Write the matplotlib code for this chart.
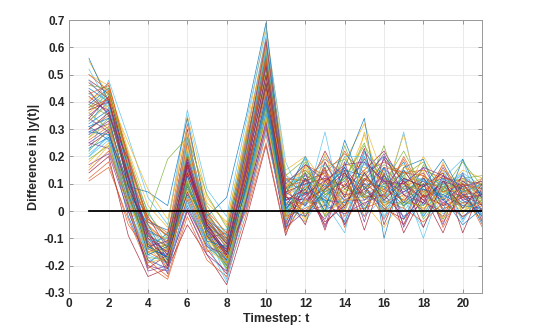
import numpy as np
import matplotlib
matplotlib.use("Agg")
import matplotlib.pyplot as plt

plt.rcParams['font.family'] = ['Liberation Sans', 'DejaVu Sans']

timesteps = list(range(1, 22))

# one row per simulated run, values at t = 1..21
series = [
    [0.45, 0.40, 0.12, -0.10, -0.18, 0.20, -0.05, -0.15, 0.15, 0.50, 0.05, 0.02, 0.10, 0.00, 0.18, 0.05, 0.12, -0.02, 0.08, 0.03, 0.06],
    [0.30, 0.35, 0.05, -0.15, -0.12, 0.10, -0.08, -0.20, 0.10, 0.45, -0.02, 0.08, 0.15, 0.05, 0.10, -0.03, 0.09, 0.12, 0.00, 0.07, -0.04],
    [0.55, 0.42, 0.20, -0.05, -0.15, 0.25, -0.02, -0.10, 0.25, 0.62, 0.10, 0.12, 0.03, 0.20, 0.08, 0.15, 0.02, 0.06, 0.14, 0.05, 0.10],
    [0.25, 0.30, 0.00, -0.20, -0.22, 0.05, -0.12, -0.18, 0.05, 0.38, -0.05, 0.05, -0.03, 0.10, 0.02, 0.12, -0.05, 0.08, 0.04, -0.02, 0.03],
    [0.38, 0.44, 0.15, -0.08, -0.10, 0.15, 0.00, -0.12, 0.20, 0.55, 0.08, 0.18, 0.06, 0.12, 0.25, 0.00, 0.15, 0.05, 0.10, 0.12, 0.08],
    [0.20, 0.28, 0.08, -0.12, -0.20, 0.12, -0.06, -0.22, 0.08, 0.42, 0.02, -0.04, 0.08, 0.02, 0.06, 0.10, 0.04, -0.06, 0.09, 0.02, 0.05],
    [0.42, 0.36, 0.10, -0.02, -0.14, 0.30, -0.10, -0.08, 0.22, 0.58, 0.12, 0.06, 0.22, 0.08, 0.15, 0.22, 0.10, 0.14, 0.02, 0.10, 0.00],
    [0.33, 0.40, 0.18, -0.14, -0.08, 0.08, -0.04, -0.16, 0.12, 0.48, -0.06, 0.10, 0.00, 0.14, 0.04, 0.08, 0.18, 0.02, 0.12, -0.03, 0.07],
    [0.15, 0.22, 0.02, -0.18, -0.24, 0.00, -0.15, -0.12, 0.02, 0.30, 0.00, 0.03, 0.12, -0.05, 0.09, 0.02, 0.06, 0.10, -0.04, 0.06, 0.02],
    [0.50, 0.46, 0.22, 0.02, -0.06, 0.35, 0.05, -0.05, 0.30, 0.68, 0.15, 0.20, 0.10, 0.18, 0.32, 0.12, 0.05, 0.20, 0.08, 0.15, 0.12],
    [0.28, 0.33, 0.06, -0.09, -0.16, 0.18, -0.09, -0.20, 0.14, 0.44, 0.04, 0.00, 0.07, 0.11, 0.00, 0.16, 0.08, 0.03, 0.11, 0.04, -0.01],
    [0.36, 0.30, 0.14, -0.16, -0.12, 0.06, -0.02, -0.14, 0.18, 0.52, 0.07, 0.14, -0.02, 0.06, 0.20, 0.04, 0.13, -0.03, 0.06, 0.09, 0.04],
    [0.22, 0.38, 0.10, -0.06, -0.20, 0.22, -0.07, -0.25, 0.06, 0.40, -0.03, 0.06, 0.18, 0.03, 0.12, 0.07, 0.00, 0.09, 0.15, 0.01, 0.09],
    [0.48, 0.43, 0.16, -0.11, -0.17, 0.14, -0.03, -0.09, 0.24, 0.60, 0.09, -0.02, 0.11, 0.16, 0.06, 0.19, 0.11, 0.04, -0.02, 0.11, 0.05],
    [0.31, 0.26, -0.02, -0.19, -0.14, 0.02, -0.13, -0.19, 0.04, 0.36, 0.01, 0.09, 0.04, -0.04, 0.14, 0.03, 0.07, 0.12, 0.05, -0.05, 0.01],
    [0.40, 0.47, 0.19, -0.03, -0.09, 0.27, -0.01, -0.11, 0.26, 0.56, 0.11, 0.15, 0.08, 0.22, 0.10, 0.05, 0.20, 0.07, 0.13, 0.08, 0.11],
    [0.18, 0.25, 0.04, -0.13, -0.21, 0.09, -0.11, -0.17, 0.09, 0.34, -0.07, 0.04, 0.02, 0.07, 0.03, -0.06, 0.05, 0.01, 0.07, 0.03, -0.03],
    [0.35, 0.41, 0.13, -0.07, -0.11, 0.19, -0.05, -0.13, 0.17, 0.53, 0.06, 0.11, 0.14, 0.01, 0.22, 0.11, 0.03, 0.16, 0.04, 0.13, 0.06],
    [0.27, 0.34, 0.07, -0.17, -0.18, 0.11, -0.08, -0.21, 0.11, 0.46, 0.03, -0.01, 0.06, 0.09, 0.05, 0.09, 0.14, -0.01, 0.10, 0.00, 0.04],
    [0.52, 0.39, 0.17, 0.00, -0.13, 0.28, -0.04, -0.07, 0.28, 0.64, 0.13, 0.09, 0.20, 0.12, 0.17, 0.14, 0.08, 0.11, 0.06, 0.14, 0.09],
    [0.24, 0.29, 0.03, -0.21, -0.16, 0.04, -0.14, -0.23, 0.03, 0.33, -0.04, 0.07, -0.05, 0.04, 0.08, 0.01, -0.03, 0.06, 0.02, 0.05, 0.00],
    [0.39, 0.45, 0.14, -0.04, -0.07, 0.16, -0.06, -0.10, 0.21, 0.57, 0.08, 0.13, 0.09, 0.15, 0.13, 0.20, 0.12, 0.09, 0.12, 0.07, 0.10],
    [0.12, 0.18, -0.05, -0.15, -0.19, 0.07, -0.10, -0.15, 0.00, 0.28, -0.02, 0.01, 0.05, 0.00, 0.01, 0.04, 0.01, -0.04, 0.03, -0.02, 0.02],
    [0.44, 0.37, 0.11, -0.12, -0.15, 0.24, -0.03, -0.17, 0.19, 0.51, 0.05, 0.17, 0.01, 0.10, 0.28, 0.06, 0.16, 0.13, 0.08, 0.10, 0.03],
    [0.29, 0.32, 0.09, -0.08, -0.23, 0.13, -0.07, -0.19, 0.13, 0.43, 0.02, 0.05, 0.13, 0.06, 0.07, 0.13, 0.06, 0.00, 0.13, 0.06, 0.07],
    [0.37, 0.43, 0.21, -0.01, -0.10, 0.21, 0.02, -0.09, 0.23, 0.59, 0.10, 0.08, 0.16, 0.19, 0.11, 0.17, 0.13, 0.18, 0.07, 0.12, 0.13],
    [0.21, 0.27, 0.01, -0.16, -0.19, 0.03, -0.12, -0.20, 0.07, 0.37, -0.05, 0.02, 0.00, 0.05, -0.02, 0.05, 0.02, 0.07, -0.01, 0.04, -0.02],
    [0.47, 0.41, 0.16, -0.09, -0.13, 0.17, -0.04, -0.12, 0.20, 0.54, 0.07, 0.10, 0.12, 0.09, 0.19, 0.10, 0.10, 0.04, 0.11, 0.08, 0.05],
    [0.32, 0.37, 0.11, -0.13, -0.17, 0.10, -0.06, -0.18, 0.10, 0.47, 0.00, 0.12, 0.05, 0.13, 0.09, 0.00, 0.09, 0.08, 0.05, 0.11, 0.06],
    [0.26, 0.31, 0.05, -0.11, -0.21, 0.15, -0.09, -0.16, 0.12, 0.41, 0.03, 0.03, 0.09, 0.02, 0.12, 0.08, 0.04, 0.10, 0.01, 0.03, 0.03],
    [0.41, 0.44, 0.18, -0.06, -0.11, 0.23, -0.02, -0.13, 0.22, 0.61, 0.09, 0.16, 0.07, 0.17, 0.16, 0.13, 0.17, 0.06, 0.15, 0.09, 0.12],
    [0.34, 0.29, 0.08, -0.14, -0.16, 0.07, -0.08, -0.14, 0.15, 0.49, 0.04, 0.06, 0.11, 0.04, 0.04, 0.11, 0.07, 0.11, 0.03, 0.06, 0.02],
    [0.19, 0.24, 0.03, -0.10, -0.14, 0.11, -0.11, -0.21, 0.05, 0.35, -0.01, 0.08, 0.03, 0.08, 0.06, 0.03, 0.03, 0.02, 0.08, 0.01, 0.04],
    [0.43, 0.38, 0.15, -0.07, -0.12, 0.26, -0.03, -0.11, 0.24, 0.58, 0.11, 0.13, 0.17, 0.11, 0.21, 0.15, 0.11, 0.12, 0.10, 0.13, 0.08],
    [0.30, 0.36, 0.12, -0.12, -0.19, 0.14, -0.05, -0.17, 0.14, 0.45, 0.05, 0.04, 0.08, 0.14, 0.05, 0.06, 0.15, 0.05, 0.09, 0.05, 0.06],
    [0.23, 0.27, 0.06, -0.13, -0.17, 0.09, -0.07, -0.15, 0.08, 0.39, 0.01, 0.07, 0.04, 0.03, 0.10, 0.09, 0.02, 0.08, 0.06, 0.02, 0.01],
    [0.50, 0.44, 0.19, -0.04, -0.09, 0.32, 0.00, -0.08, 0.27, 0.63, 0.12, 0.11, 0.14, 0.21, 0.14, 0.18, 0.14, 0.15, 0.12, 0.11, 0.10],
    [0.33, 0.39, 0.10, -0.15, -0.14, 0.12, -0.06, -0.19, 0.11, 0.48, 0.06, 0.09, 0.10, 0.07, 0.13, 0.05, 0.10, 0.07, 0.07, 0.08, 0.05],
    [0.17, 0.21, 0.00, -0.18, -0.21, 0.01, -0.13, -0.16, 0.01, 0.31, -0.06, 0.00, 0.02, -0.01, 0.03, 0.06, -0.02, 0.03, 0.00, 0.00, 0.00],
    [0.39, 0.35, 0.14, -0.09, -0.13, 0.21, -0.04, -0.12, 0.19, 0.52, 0.08, 0.14, 0.06, 0.12, 0.24, 0.12, 0.08, 0.10, 0.09, 0.10, 0.07],
    [0.28, 0.48, 0.27, 0.05, -0.05, 0.37, 0.08, -0.02, 0.33, 0.66, 0.18, 0.02, 0.29, -0.04, 0.20, 0.03, 0.29, -0.02, 0.12, 0.19, -0.03],
    [0.14, 0.20, -0.09, -0.24, -0.21, -0.05, -0.16, -0.27, -0.03, 0.24, -0.09, 0.12, -0.07, 0.15, -0.07, 0.14, -0.08, 0.06, -0.08, 0.10, 0.02],
    [0.56, 0.40, 0.09, 0.07, 0.02, 0.34, -0.02, 0.05, 0.35, 0.69, 0.06, 0.20, 0.02, 0.16, 0.34, -0.10, 0.16, 0.19, 0.00, 0.19, 0.04],
    [0.11, 0.16, -0.03, -0.20, -0.25, -0.02, -0.18, -0.24, -0.01, 0.25, -0.08, 0.05, 0.15, -0.06, 0.12, 0.02, -0.05, 0.13, -0.06, 0.08, -0.06],
    [0.36, 0.42, 0.25, 0.08, -0.03, 0.29, 0.03, -0.04, 0.29, 0.60, 0.14, -0.03, 0.21, 0.00, 0.29, 0.06, 0.28, -0.01, 0.18, -0.01, 0.11],
    [0.25, 0.23, 0.02, -0.22, -0.20, 0.00, -0.16, -0.22, 0.04, 0.32, -0.07, 0.14, -0.06, 0.18, -0.04, 0.20, -0.06, 0.10, -0.05, 0.14, -0.04],
    [0.46, 0.45, 0.17, -0.02, 0.19, 0.27, 0.06, -0.06, 0.25, 0.57, 0.13, 0.19, -0.02, 0.24, 0.05, 0.24, 0.01, 0.17, 0.08, 0.18, 0.09],
    [0.20, 0.26, 0.04, -0.17, -0.22, 0.04, -0.12, -0.26, 0.02, 0.29, -0.04, 0.20, 0.03, -0.08, 0.22, -0.02, 0.10, -0.10, 0.11, -0.04, 0.08],
    [0.37, 0.40, 0.13, -0.10, -0.15, 0.18, -0.05, -0.15, 0.16, 0.50, 0.06, -0.05, 0.18, 0.05, 0.23, -0.05, 0.12, 0.09, 0.14, -0.08, 0.09],
    [0.31, 0.34, 0.07, -0.05, -0.18, 0.13, -0.09, -0.18, 0.09, 0.42, 0.02, 0.12, 0.00, 0.26, 0.08, 0.16, -0.03, 0.12, 0.04, 0.09, -0.05],
    [0.43, 0.46, 0.20, -0.03, -0.08, 0.20, -0.01, -0.10, 0.18, 0.55, -0.05, 0.17, 0.13, -0.02, 0.12, 0.07, 0.19, 0.05, 0.17, 0.05, 0.12],
    [0.27, 0.32, 0.08, -0.14, -0.15, 0.08, -0.10, -0.17, 0.13, 0.44, 0.10, -0.04, 0.16, 0.00, 0.15, 0.02, 0.09, 0.15, -0.03, 0.12, 0.04],
    [0.40, 0.37, 0.12, -0.08, -0.16, 0.16, -0.07, -0.14, 0.17, 0.53, 0.07, 0.02, 0.16, -0.05, 0.11, 0.21, 0.06, 0.03, 0.16, 0.04, 0.06],
    [0.22, 0.30, 0.05, -0.12, -0.19, 0.10, -0.08, -0.20, 0.07, 0.38, -0.02, 0.15, 0.07, 0.12, 0.01, 0.10, 0.22, 0.08, -0.03, 0.08, 0.03],
    [0.48, 0.39, 0.15, -0.11, -0.10, 0.22, -0.02, -0.09, 0.21, 0.59, 0.12, 0.03, 0.04, 0.20, 0.20, -0.03, 0.15, 0.11, 0.09, 0.14, -0.02],
    [0.34, 0.42, 0.09, -0.07, -0.20, 0.17, -0.06, -0.16, 0.12, 0.47, 0.04, 0.08, -0.04, 0.02, 0.14, 0.04, 0.11, -0.06, 0.11, 0.01, 0.10],
    [0.29, 0.28, 0.10, -0.16, -0.13, 0.06, -0.11, -0.13, 0.10, 0.40, 0.01, -0.02, 0.08, 0.16, 0.00, 0.13, 0.03, 0.09, 0.19, 0.06, -0.02],
    [0.38, 0.41, 0.16, -0.05, -0.12, 0.25, -0.04, -0.11, 0.20, 0.56, 0.09, 0.11, 0.19, 0.13, -0.02, 0.16, 0.14, 0.13, 0.07, 0.10, 0.08],
    [0.16, 0.24, 0.01, -0.19, -0.17, 0.05, -0.14, -0.19, 0.06, 0.34, -0.03, 0.04, -0.01, 0.04, 0.05, 0.00, 0.04, 0.01, 0.05, 0.00, 0.03],
    [0.44, 0.35, 0.19, -0.13, -0.11, 0.19, -0.03, -0.12, 0.23, 0.62, 0.10, 0.17, 0.11, 0.17, 0.18, 0.11, 0.10, 0.16, 0.13, 0.09, 0.11],
]

# matlab default colour order
colors = ['#0072BD', '#D95319', '#EDB120', '#7E2F8E', '#77AC30', '#4DBEEE', '#A2142F']

fig = plt.figure(figsize=(5.33, 3.34), dpi=100)
ax = fig.add_axes([0.13, 0.123, 0.775, 0.817])

for i, row in enumerate(series):
    ax.plot(timesteps, row, color=colors[i % len(colors)], lw=0.5, alpha=0.85)

ax.plot([timesteps[0], timesteps[-1]], [0, 0], color='black', lw=1.3)

ax.set_xlim(0, 21)
ax.set_ylim(-0.3, 0.7)
ax.set_xticks(np.arange(0, 21, 2))
ax.set_yticks(np.arange(-0.3, 0.71, 0.1))
ax.set_yticklabels(['-0.3', '-0.2', '-0.1', '0', '0.1', '0.2', '0.3', '0.4', '0.5', '0.6', '0.7'])

ax.grid(True, color='#e6e6e6', lw=0.6)
ax.set_axisbelow(True)
ax.tick_params(direction='in', top=True, right=True, length=3, width=0.6,
               color='#888888', labelsize=8.5, labelcolor='#262626')
for lab in ax.get_xticklabels() + ax.get_yticklabels():
    lab.set_fontweight('bold')
for s in ax.spines.values():
    s.set_color('#999999')
    s.set_linewidth(0.7)

ax.set_xlabel('Timestep: t', fontsize=9, fontweight='bold', color='#262626', labelpad=2)
ax.set_ylabel('Difference in |y(t)|', fontsize=9, fontweight='bold', color='#262626', labelpad=3)

fig.savefig('out.png', dpi=100)
